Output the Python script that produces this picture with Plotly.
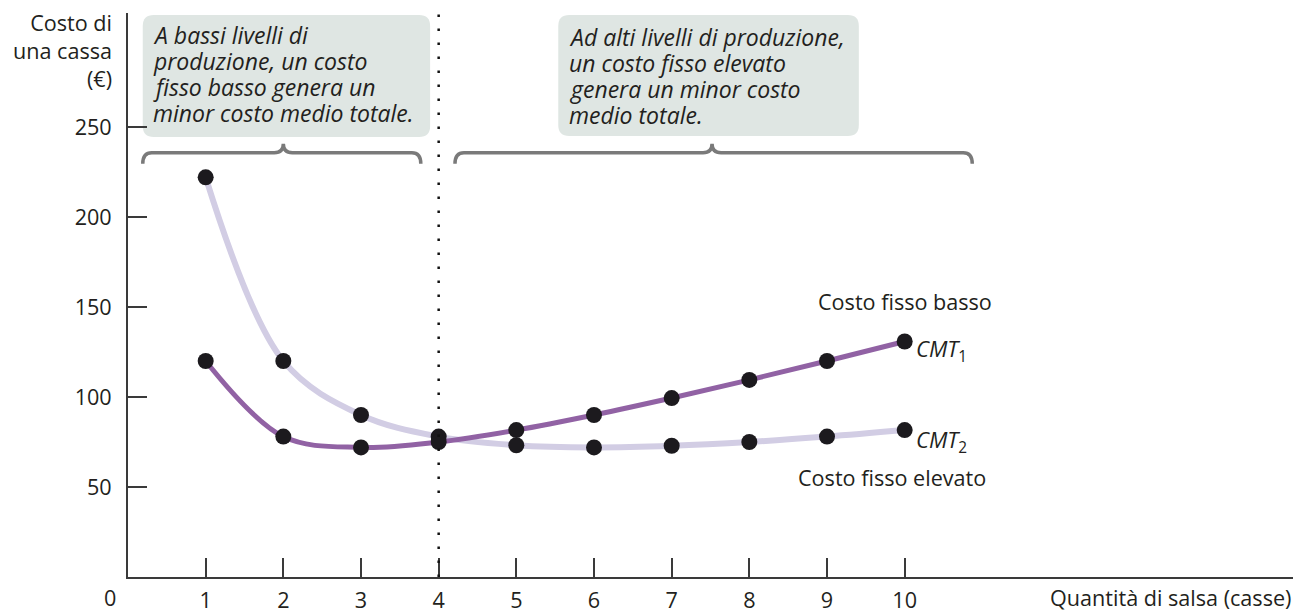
import plotly.graph_objects as go

# ---------------- data ----------------
quantity = [1, 2, 3, 4, 5, 6, 7, 8, 9, 10]
cmt1_low_fixed = [120, 78, 72, 75, 81.6, 90, 99.4, 109.5, 120, 130.8]
cmt2_high_fixed = [222, 120, 90, 78, 73.2, 72, 72.9, 75, 78, 81.6]
x_ticks = [1, 2, 3, 4, 5, 6, 7, 8, 9, 10]
y_ticks = [50, 100, 150, 200, 250]
threshold_q = 4

box1_lines = ["A bassi livelli di", "produzione, un costo",
              "fisso basso genera un", "minor costo medio totale."]
box2_lines = ["Ad alti livelli di produzione,", "un costo fisso elevato",
              "genera un minor costo", "medio totale."]

# ---------------- style ----------------
FONT = "Open Sans"
TXT = "#231f20"
AX = "#3a3a3a"
PURPLE = "#9162a4"
LAVENDER = "#d2cde4"
DOT = "#1c1a1e"
BOX = "#dfe6e3"
BRACE = "#7a7a7a"

X_MAX = 15.0
Y_MAX = 313.3
W, H = 1300, 613
ML, MR, MT, MB = 128, 7, 13, 36
PXX = (W - ML - MR) / X_MAX   # pixels per x unit
PXY = (H - MT - MB) / Y_MAX   # pixels per y unit

fig = go.Figure()

# curves
fig.add_trace(go.Scatter(x=quantity, y=cmt2_high_fixed, mode="lines",
                         line=dict(color=LAVENDER, width=6, shape="spline", smoothing=1.0),
                         hoverinfo="skip", showlegend=False))
fig.add_trace(go.Scatter(x=quantity, y=cmt1_low_fixed, mode="lines",
                         line=dict(color=PURPLE, width=5, shape="spline", smoothing=1.0),
                         hoverinfo="skip", showlegend=False))
# dots
fig.add_trace(go.Scatter(x=quantity + quantity, y=cmt2_high_fixed + cmt1_low_fixed,
                         mode="markers", marker=dict(color=DOT, size=16),
                         hoverinfo="skip", showlegend=False))

shapes = []

# dotted vertical line at the threshold quantity
shapes.append(dict(type="line", xref="x", yref="paper", x0=threshold_q, x1=threshold_q,
                   y0=0, y1=1, line=dict(color="#111111", width=2.5, dash="2.5px,11.5px"),
                   layer="above"))


def rounded_box(x0, x1, y0, y1, r_px=11):
    rx, ry = r_px / PXX, r_px / PXY
    p = (f"M {x0+rx},{y1} L {x1-rx},{y1} Q {x1},{y1} {x1},{y1-ry} "
         f"L {x1},{y0+ry} Q {x1},{y0} {x1-rx},{y0} L {x0+rx},{y0} "
         f"Q {x0},{y0} {x0},{y0+ry} L {x0},{y1-ry} Q {x0},{y1} {x0+rx},{y1} Z")
    return dict(type="path", xref="x", yref="y", path=p, fillcolor=BOX,
                line=dict(width=0), layer="below")


def brace(xa, xb, xc, y_line, drop_px=11, tip_px=9, r_px=9):
    rx = r_px / PXX
    yd = y_line - drop_px / PXY
    yp = y_line + tip_px / PXY
    p = (f"M {xa},{yd} Q {xa},{y_line} {xa+rx},{y_line} L {xc-rx},{y_line} "
         f"Q {xc},{y_line} {xc},{yp} Q {xc},{y_line} {xc+rx},{y_line} "
         f"L {xb-rx},{y_line} Q {xb},{y_line} {xb},{yd}")
    return dict(type="path", xref="x", yref="y", path=p,
                line=dict(color=BRACE, width=3.5))


shapes.append(rounded_box(0.19, 3.89, 244.4, 312.2))
shapes.append(rounded_box(5.54, 9.41, 245.0, 312.2))
shapes.append(brace(0.19, 3.77, 2.0, 235.6))
shapes.append(brace(4.21, 10.87, 7.52, 235.6))

annotations = []
ital = dict(family=FONT, size=23, color=TXT)
line_step = 26 / PXY
top_center = 301.1
for i, t in enumerate(box1_lines):
    annotations.append(dict(xref="x", yref="y", x=0.293, y=top_center - i * line_step,
                            xanchor="left", yanchor="middle", showarrow=False,
                            font=ital, text=f"<i>{t}</i>"))
for i, t in enumerate(box2_lines):
    annotations.append(dict(xref="x", yref="y", x=5.656, y=top_center - 1.3 - i * line_step,
                            xanchor="left", yanchor="middle", showarrow=False,
                            font=ital, text=f"<i>{t}</i>"))

reg = dict(family=FONT, size=21.6, color=TXT)
annotations.append(dict(xref="x", yref="y", x=10.0, y=152.8, xanchor="center", yanchor="middle",
                        showarrow=False, font=reg, text="Costo fisso basso"))
annotations.append(dict(xref="x", yref="y", x=9.84, y=55, xanchor="center", yanchor="middle",
                        showarrow=False, font=reg, text="Costo fisso elevato"))
annotations.append(dict(xref="x", yref="y", x=10.12, y=126, xanchor="left", yanchor="middle",
                        showarrow=False, font=dict(family=FONT, size=22, color=TXT),
                        text="<i>CMT</i><sub>1</sub>"))
annotations.append(dict(xref="x", yref="y", x=10.12, y=75.5, xanchor="left", yanchor="middle",
                        showarrow=False, font=dict(family=FONT, size=22, color=TXT),
                        text="<i>CMT</i><sub>2</sub>"))

# axis titles and origin label
annotations.append(dict(xref="paper", yref="paper", x=0, y=1, xanchor="right", yanchor="top",
                        xshift=-14, yshift=7, align="right", showarrow=False, font=reg,
                        text="Costo di<br>una cassa<br>(€)"))
annotations.append(dict(xref="paper", yref="paper", x=1, y=0, xanchor="right", yanchor="top",
                        yshift=-4, showarrow=False, font=reg,
                        text="Quantità di salsa (casse)"))
annotations.append(dict(xref="x", yref="y", x=0, y=0, xanchor="center", yanchor="top",
                        xshift=-18, yshift=-4, showarrow=False, font=reg, text="0"))

fig.update_layout(
    width=W, height=H, autosize=False,
    margin=dict(l=ML, r=MR, t=MT, b=MB),
    paper_bgcolor="white", plot_bgcolor="white",
    shapes=shapes, annotations=annotations,
    font=dict(family=FONT, size=21.6, color=TXT),
    xaxis=dict(range=[0, X_MAX], tickvals=x_ticks, ticks="inside", ticklen=19,
               tickwidth=2, tickcolor=AX, showline=True, linecolor=AX, linewidth=2,
               showgrid=False, zeroline=False, automargin=False,
               tickfont=dict(family=FONT, size=21.6, color=TXT),
               ticklabelstandoff=3),
    yaxis=dict(range=[0, Y_MAX], tickvals=y_ticks, ticks="inside", ticklen=19,
               tickwidth=2, tickcolor=AX, showline=True, linecolor=AX, linewidth=2,
               showgrid=False, zeroline=False, automargin=False,
               tickfont=dict(family=FONT, size=21.6, color=TXT),
               ticklabelstandoff=10),
)

fig.write_html(
    "out.html",
    config={"responsive": False, "displayModeBar": False},
    post_script="document.body.style.margin='0px';"
                "document.documentElement.style.overflow='hidden';",
)
